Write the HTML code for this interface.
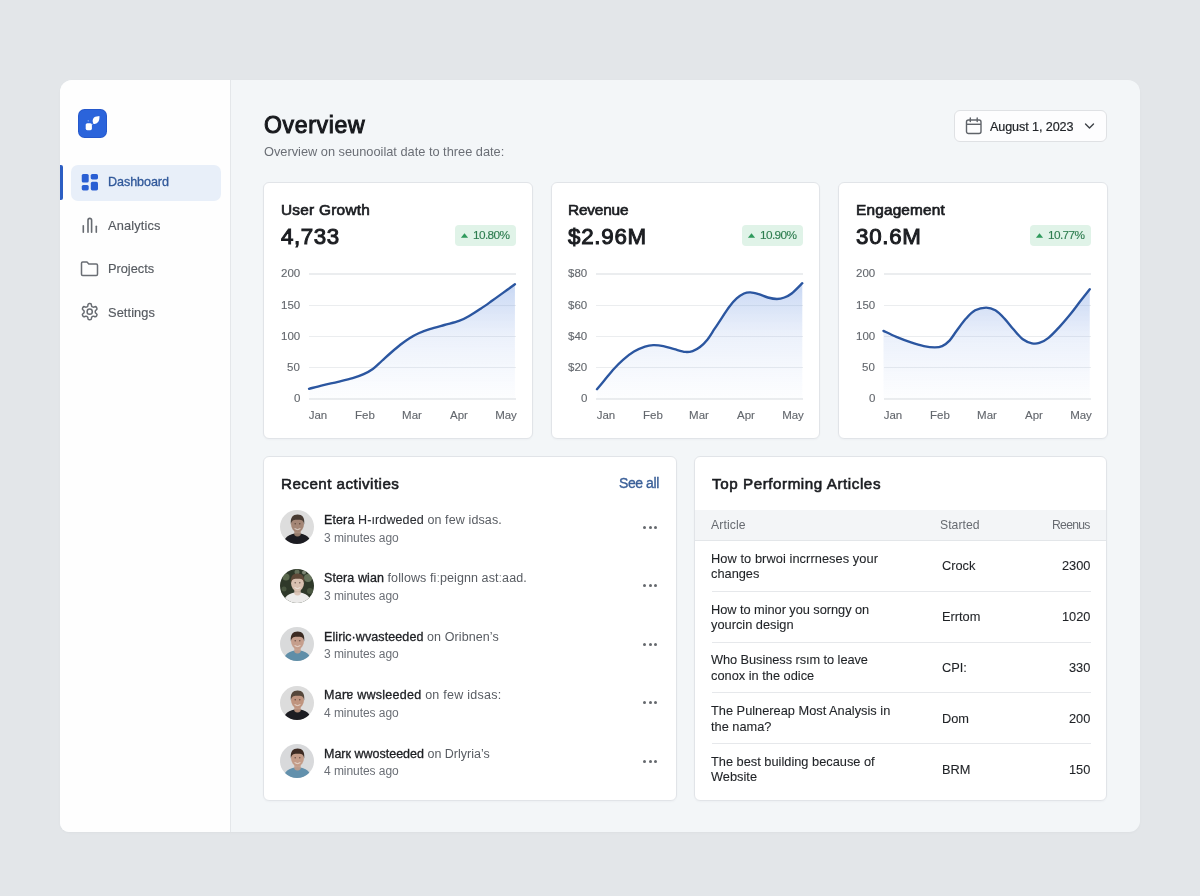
<!DOCTYPE html>
<html><head><meta charset="utf-8"><title>Overview Dashboard</title>
<style>
*{box-sizing:border-box;margin:0;padding:0}
html,body{width:1200px;height:896px;overflow:hidden}
body{background:#e3e6e9;font-family:"Liberation Sans", sans-serif;position:relative;-webkit-font-smoothing:antialiased}
.t{position:absolute;white-space:nowrap;will-change:transform}
.abs{position:absolute}
.app{position:absolute;left:60px;top:80px;width:1080px;height:752px;border-radius:12px 12px 11px 9px;background:#f3f6f8;overflow:hidden;box-shadow:0 1px 3px rgba(0,0,0,.03)}
.side{position:absolute;left:60px;top:80px;width:171px;height:752px;background:#fefefe;border-right:1px solid #e4e7ea;border-radius:12px 0 0 9px}
.card{position:absolute;background:#fff;border:1px solid #e1e4e8;border-radius:6px;box-shadow:0 1px 2px rgba(20,30,50,.03)}
.badge{position:absolute;background:#e0f3e8;border-radius:4px}
.grid{position:absolute;height:1.5px;background:#ebedef}
.av{position:absolute;width:34px;height:34px;border-radius:50%;overflow:hidden}
.dots{position:absolute;width:16px;height:4px}
.dots i{position:absolute;top:0;width:3.2px;height:3.2px;border-radius:50%;background:#65686d}
.sep{position:absolute;height:1px;background:#e6e8eb}
.med{-webkit-text-stroke:0.25px currentColor}
</style></head>
<body>
<div class="app"></div>
<div class="side"></div>
<svg class="abs" style="left:78px;top:109px" width="29" height="29" viewBox="0 0 29 29">
<rect x="0" y="0" width="29" height="29" rx="6.5" fill="#2558cc"/><rect x="1" y="1" width="27" height="27" rx="5.5" fill="#2b64db"/>
<rect x="7.7" y="14.2" width="6.2" height="7" rx="1.6" fill="#fff"/>
<path d="M15.6,14.8 C14.2,13.4 14.3,10.2 16,8.6 C17.6,7.2 19.8,7.1 21.4,6.9 C21.7,9.4 21.2,11.9 19.8,13.3 C18.6,14.6 16.9,15.5 15.6,14.8 Z" fill="#fff"/>
<path d="M14.2,15.6 L17.2,12.8" stroke="#fff" stroke-width="0.8" opacity=".6"/>
<circle cx="10.2" cy="11.8" r="0.6" fill="#fff" opacity=".7"/>
</svg>
<div class="abs" style="left:60px;top:165px;width:3px;height:35px;background:#2c5ec3;border-radius:0 2px 2px 0"></div>
<div class="abs" style="left:71px;top:165px;width:150px;height:36px;background:#e8eff9;border-radius:7px"></div>
<svg class="abs" style="left:81px;top:174px" width="18" height="17" viewBox="0 0 18 17">
<rect x="0.75" y="0" width="6.95" height="8.6" rx="1.6" fill="#2a5fd3"/>
<rect x="0.75" y="11" width="6.95" height="5.4" rx="1.6" fill="#2a5fd3"/>
<rect x="9.7" y="0" width="7.3" height="5.4" rx="1.6" fill="#2a5fd3"/>
<rect x="9.8" y="7.8" width="7.2" height="8.6" rx="1.6" fill="#2a5fd3"/>
</svg>
<div class="t" style="top:174.23px;font-size:12.6px;line-height:16px;color:#30589a;left:108.00px;-webkit-text-stroke:0.3px currentColor;letter-spacing:-0.080px;">Dashboard</div>
<svg class="abs" style="left:81px;top:216px" width="18" height="18" viewBox="0 0 18 18" fill="none" stroke="#676b71" stroke-width="1.6" stroke-linecap="round">
<path d="M2.3,9.8 V16.2"/><path d="M7,16.2 V4.2 A1.8,1.8 0 0 1 10.6,4.2 V16.2"/><path d="M15.3,10.3 V16.2"/>
</svg>
<div class="t" style="top:217.56px;font-size:12.8px;line-height:16px;color:#55595f;left:107.60px;-webkit-text-stroke:0.15px currentColor;letter-spacing:0.160px;">Analytics</div>
<svg class="abs" style="left:80px;top:260px" width="19" height="17" viewBox="0 0 19 17" fill="none" stroke="#6a6e74" stroke-width="1.5" stroke-linejoin="round">
<path d="M1.5,3.2 Q1.5,2 2.7,2 H7 L8.8,4 H16.3 Q17.5,4 17.5,5.2 V14.3 Q17.5,15.5 16.3,15.5 H2.7 Q1.5,15.5 1.5,14.3 Z"/>
</svg>
<div class="t" style="top:261.16px;font-size:12.8px;line-height:16px;color:#55595f;left:107.80px;-webkit-text-stroke:0.15px currentColor;letter-spacing:-0.020px;">Projects</div>
<svg class="abs" style="left:80px;top:302.3px" width="19.4" height="19.4" viewBox="0 0 24 24" fill="none" stroke="#676b71" stroke-width="1.85" stroke-linecap="round" stroke-linejoin="round">
<path d="M12.22 2h-.44a2 2 0 0 0-2 2v.18a2 2 0 0 1-1 1.73l-.43.25a2 2 0 0 1-2 0l-.15-.08a2 2 0 0 0-2.730.73l-.22.38a2 2 0 0 0 .73 2.73l.15.1a2 2 0 0 1 1 1.72v.51a2 2 0 0 1-1 1.740l-.15.09a2 2 0 0 0-.73 2.73l.22.38a2 2 0 0 0 2.73.73l.15-.08a2 2 0 0 1 2 0l.43.25a2 2 0 0 1 1 1.73V20a2 2 0 0 0 2 2h.44a2 2 0 0 0 2-2v-.18a2 2 0 0 1 1-1.73l.43-.25a2 2 0 0 1 2 0l.15.08a2 2 0 0 0 2.73-.73l.22-.39a2 2 0 0 0-.73-2.730l-.15-.08a2 2 0 0 1-1-1.74v-.5a2 2 0 0 1 1-1.74l.15-.09a2 2 0 0 0 .73-2.73l-.22-.38a2 2 0 0 0-2.73-.73l-.15.08a2 2 0 0 1-2 0l-.43-.25a2 2 0 0 1-1-1.73V4a2 2 0 0 0-2-2z"/>
<circle cx="12" cy="12" r="3.2"/>
</svg>
<div class="t" style="top:305.06px;font-size:12.8px;line-height:16px;color:#55595f;left:107.80px;-webkit-text-stroke:0.15px currentColor;letter-spacing:0.093px;">Settings</div>
<div class="t" style="top:110.53px;font-size:23px;line-height:29px;color:#17191d;left:264.00px;-webkit-text-stroke:1px currentColor;letter-spacing:0.664px;">Overview</div>
<div class="t" style="top:143.56px;font-size:12.8px;line-height:16px;color:#6b6f76;left:263.70px;letter-spacing:-0.005px;">Overview on seunooilat date to three date:</div>
<div class="abs" style="left:954px;top:109.8px;width:153px;height:32.2px;background:#fdfdfe;border:1px solid #dfe1e4;border-radius:6px"></div>
<svg class="abs" style="left:965px;top:117px" width="18" height="18" viewBox="0 0 18 18" fill="none" stroke="#5f6369" stroke-width="1.4">
<rect x="1.5" y="3" width="14.5" height="13.5" rx="2"/><path d="M1.5,7.3 H16"/><path d="M5.3,1 V4.5 M12.2,1 V4.5" stroke-linecap="round"/>
</svg>
<div class="t" style="top:118.83px;font-size:12.6px;line-height:16px;color:#222529;left:990.00px;-webkit-text-stroke:0.2px currentColor;letter-spacing:-0.097px;">August 1, 2023</div>
<svg class="abs" style="left:1083px;top:121px" width="13" height="10" viewBox="0 0 13 10" fill="none" stroke="#3c4046" stroke-width="1.4" stroke-linecap="round" stroke-linejoin="round"><path d="M2.5,3 L6.5,7 L10.5,3"/></svg>
<div class="card" style="left:263px;top:181.5px;width:269.5px;height:257.4px"></div>
<div class="t" style="top:199.86px;font-size:15.4px;line-height:19px;color:#1b1d21;left:280.80px;-webkit-text-stroke:0.7px currentColor;letter-spacing:0.247px;">User Growth</div>
<div class="t" style="top:222.97px;font-size:22.3px;line-height:28px;color:#1b1d21;left:280.90px;-webkit-text-stroke:1px currentColor;letter-spacing:0.574px;">4,733</div>
<div class="badge" style="left:454.5px;top:225px;width:61px;height:21px"></div>
<svg class="abs" style="left:459.5px;top:232px" width="9" height="7" viewBox="0 0 9 7"><path d="M4.5,1.2 L8.1,5.8 H0.9 Z" fill="#2f9a5c"/></svg>
<div class="t" style="top:228.01px;font-size:11.8px;line-height:15px;color:#2e7d50;left:472.90px;-webkit-text-stroke:0.15px currentColor;letter-spacing:-0.604px;">10.80%</div>
<div class="grid" style="left:308.5px;top:273.15px;width:207.3px"></div>
<div class="t" style="top:266.32px;font-size:11.5px;line-height:14px;color:#63676d;right:900.00px;text-align:right;-webkit-text-stroke:0.12px currentColor;">200</div>
<div class="grid" style="left:308.5px;top:304.55px;width:207.3px"></div>
<div class="t" style="top:297.72px;font-size:11.5px;line-height:14px;color:#63676d;right:900.00px;text-align:right;-webkit-text-stroke:0.12px currentColor;">150</div>
<div class="grid" style="left:308.5px;top:335.75px;width:207.3px"></div>
<div class="t" style="top:328.92px;font-size:11.5px;line-height:14px;color:#63676d;right:900.00px;text-align:right;-webkit-text-stroke:0.12px currentColor;">100</div>
<div class="grid" style="left:308.5px;top:366.95px;width:207.3px"></div>
<div class="t" style="top:360.12px;font-size:11.5px;line-height:14px;color:#63676d;right:900.00px;text-align:right;-webkit-text-stroke:0.12px currentColor;">50</div>
<div class="grid" style="left:308.5px;top:398.05px;width:207.3px"></div>
<div class="t" style="top:391.22px;font-size:11.5px;line-height:14px;color:#63676d;right:900.00px;text-align:right;-webkit-text-stroke:0.12px currentColor;">0</div>
<div class="t" style="top:407.62px;font-size:11.5px;line-height:14px;color:#63676d;left:298.10px;width:40px;text-align:center;-webkit-text-stroke:0.12px currentColor;">Jan</div>
<div class="t" style="top:407.62px;font-size:11.5px;line-height:14px;color:#63676d;left:345.00px;width:40px;text-align:center;-webkit-text-stroke:0.12px currentColor;">Feb</div>
<div class="t" style="top:407.62px;font-size:11.5px;line-height:14px;color:#63676d;left:391.90px;width:40px;text-align:center;-webkit-text-stroke:0.12px currentColor;">Mar</div>
<div class="t" style="top:407.62px;font-size:11.5px;line-height:14px;color:#63676d;left:438.80px;width:40px;text-align:center;-webkit-text-stroke:0.12px currentColor;">Apr</div>
<div class="t" style="top:407.62px;font-size:11.5px;line-height:14px;color:#63676d;left:485.70px;width:40px;text-align:center;-webkit-text-stroke:0.12px currentColor;">May</div>
<svg class="abs" style="left:0;top:0" width="1200" height="896" viewBox="0 0 1200 896">
<defs><linearGradient id="g0" x1="0" y1="0" x2="0" y2="1"><stop offset="0" stop-color="#6f97e0" stop-opacity=".38"/><stop offset=".45" stop-color="#7ea1e4" stop-opacity=".15"/><stop offset="1" stop-color="#8fb0ec" stop-opacity=".02"/></linearGradient></defs>
<path d="M309.03,388.80 C311.42,388.19 318.51,386.29 323.33,385.13 C328.16,383.97 333.11,382.99 338.00,381.83 C342.89,380.67 348.39,379.45 352.67,378.17 C356.94,376.88 360.31,375.66 363.67,374.13 C367.03,372.61 369.78,371.23 372.83,369.00 C375.89,366.77 378.94,363.50 382.00,360.75 C385.06,358.00 388.11,355.16 391.17,352.50 C394.22,349.84 397.28,347.18 400.33,344.80 C403.39,342.42 406.44,340.12 409.50,338.20 C412.56,336.27 415.31,334.75 418.67,333.25 C422.03,331.75 425.39,330.59 429.67,329.22 C433.94,327.84 439.44,326.38 444.33,325.00 C449.22,323.62 454.72,322.56 459.00,320.97 C463.28,319.38 466.33,317.54 470.00,315.47 C473.67,313.39 477.33,310.94 481.00,308.50 C484.67,306.06 488.33,303.40 492.00,300.80 C495.67,298.20 499.18,295.67 503.00,292.92 C506.82,290.17 512.93,285.74 514.92,284.30 L514.92,398.4 L309.03,398.4 Z" fill="url(#g0)"/>
<path d="M309.03,388.80 C311.42,388.19 318.51,386.29 323.33,385.13 C328.16,383.97 333.11,382.99 338.00,381.83 C342.89,380.67 348.39,379.45 352.67,378.17 C356.94,376.88 360.31,375.66 363.67,374.13 C367.03,372.61 369.78,371.23 372.83,369.00 C375.89,366.77 378.94,363.50 382.00,360.75 C385.06,358.00 388.11,355.16 391.17,352.50 C394.22,349.84 397.28,347.18 400.33,344.80 C403.39,342.42 406.44,340.12 409.50,338.20 C412.56,336.27 415.31,334.75 418.67,333.25 C422.03,331.75 425.39,330.59 429.67,329.22 C433.94,327.84 439.44,326.38 444.33,325.00 C449.22,323.62 454.72,322.56 459.00,320.97 C463.28,319.38 466.33,317.54 470.00,315.47 C473.67,313.39 477.33,310.94 481.00,308.50 C484.67,306.06 488.33,303.40 492.00,300.80 C495.67,298.20 499.18,295.67 503.00,292.92 C506.82,290.17 512.93,285.74 514.92,284.30" fill="none" stroke="#2b56a0" stroke-width="2.35" stroke-linecap="round" stroke-linejoin="round"/>
</svg>
<div class="card" style="left:550.5px;top:181.5px;width:269.5px;height:257.4px"></div>
<div class="t" style="top:199.86px;font-size:15.4px;line-height:19px;color:#1b1d21;left:568.30px;-webkit-text-stroke:0.7px currentColor;letter-spacing:-0.174px;">Revenue</div>
<div class="t" style="top:222.97px;font-size:22.3px;line-height:28px;color:#1b1d21;left:568.40px;-webkit-text-stroke:1px currentColor;letter-spacing:0.764px;">$2.96M</div>
<div class="badge" style="left:742.0px;top:225px;width:61px;height:21px"></div>
<svg class="abs" style="left:747.0px;top:232px" width="9" height="7" viewBox="0 0 9 7"><path d="M4.5,1.2 L8.1,5.8 H0.9 Z" fill="#2f9a5c"/></svg>
<div class="t" style="top:228.01px;font-size:11.8px;line-height:15px;color:#2e7d50;left:760.40px;-webkit-text-stroke:0.15px currentColor;letter-spacing:-0.604px;">10.90%</div>
<div class="grid" style="left:596.0px;top:273.15px;width:207.3px"></div>
<div class="t" style="top:266.32px;font-size:11.5px;line-height:14px;color:#63676d;right:612.50px;text-align:right;-webkit-text-stroke:0.12px currentColor;">$80</div>
<div class="grid" style="left:596.0px;top:304.55px;width:207.3px"></div>
<div class="t" style="top:297.72px;font-size:11.5px;line-height:14px;color:#63676d;right:612.50px;text-align:right;-webkit-text-stroke:0.12px currentColor;">$60</div>
<div class="grid" style="left:596.0px;top:335.75px;width:207.3px"></div>
<div class="t" style="top:328.92px;font-size:11.5px;line-height:14px;color:#63676d;right:612.50px;text-align:right;-webkit-text-stroke:0.12px currentColor;">$40</div>
<div class="grid" style="left:596.0px;top:366.95px;width:207.3px"></div>
<div class="t" style="top:360.12px;font-size:11.5px;line-height:14px;color:#63676d;right:612.50px;text-align:right;-webkit-text-stroke:0.12px currentColor;">$20</div>
<div class="grid" style="left:596.0px;top:398.05px;width:207.3px"></div>
<div class="t" style="top:391.22px;font-size:11.5px;line-height:14px;color:#63676d;right:612.50px;text-align:right;-webkit-text-stroke:0.12px currentColor;">0</div>
<div class="t" style="top:407.62px;font-size:11.5px;line-height:14px;color:#63676d;left:585.60px;width:40px;text-align:center;-webkit-text-stroke:0.12px currentColor;">Jan</div>
<div class="t" style="top:407.62px;font-size:11.5px;line-height:14px;color:#63676d;left:632.50px;width:40px;text-align:center;-webkit-text-stroke:0.12px currentColor;">Feb</div>
<div class="t" style="top:407.62px;font-size:11.5px;line-height:14px;color:#63676d;left:679.40px;width:40px;text-align:center;-webkit-text-stroke:0.12px currentColor;">Mar</div>
<div class="t" style="top:407.62px;font-size:11.5px;line-height:14px;color:#63676d;left:726.30px;width:40px;text-align:center;-webkit-text-stroke:0.12px currentColor;">Apr</div>
<div class="t" style="top:407.62px;font-size:11.5px;line-height:14px;color:#63676d;left:773.20px;width:40px;text-align:center;-webkit-text-stroke:0.12px currentColor;">May</div>
<svg class="abs" style="left:0;top:0" width="1200" height="896" viewBox="0 0 1200 896">
<defs><linearGradient id="g1" x1="0" y1="0" x2="0" y2="1"><stop offset="0" stop-color="#6f97e0" stop-opacity=".38"/><stop offset=".45" stop-color="#7ea1e4" stop-opacity=".15"/><stop offset="1" stop-color="#8fb0ec" stop-opacity=".02"/></linearGradient></defs>
<path d="M596.97,389.17 C598.25,387.64 601.86,383.36 604.67,380.00 C607.48,376.64 610.78,372.36 613.83,369.00 C616.89,365.64 619.64,362.74 623.00,359.83 C626.36,356.93 630.33,353.78 634.00,351.58 C637.67,349.38 641.79,347.70 645.00,346.63 C648.21,345.56 650.19,345.26 653.25,345.17 C656.31,345.08 659.82,345.41 663.33,346.08 C666.85,346.76 670.67,348.22 674.33,349.20 C678.00,350.18 682.28,351.64 685.33,351.95 C688.39,352.26 690.22,351.86 692.67,351.03 C695.11,350.21 697.56,348.89 700.00,347.00 C702.44,345.11 704.89,342.72 707.33,339.67 C709.78,336.61 712.22,332.33 714.67,328.67 C717.11,325.00 719.56,321.33 722.00,317.67 C724.44,314.00 726.89,309.88 729.33,306.67 C731.78,303.46 734.22,300.62 736.67,298.42 C739.11,296.22 741.71,294.48 744.00,293.47 C746.29,292.46 747.97,292.24 750.42,292.37 C752.86,292.49 755.76,293.34 758.67,294.20 C761.57,295.06 764.78,296.71 767.83,297.50 C770.89,298.29 774.25,298.97 777.00,298.97 C779.75,298.97 781.89,298.42 784.33,297.50 C786.78,296.58 788.67,295.85 791.67,293.47 C794.66,291.08 800.53,284.91 802.30,283.20 L802.30,398.4 L596.97,398.4 Z" fill="url(#g1)"/>
<path d="M596.97,389.17 C598.25,387.64 601.86,383.36 604.67,380.00 C607.48,376.64 610.78,372.36 613.83,369.00 C616.89,365.64 619.64,362.74 623.00,359.83 C626.36,356.93 630.33,353.78 634.00,351.58 C637.67,349.38 641.79,347.70 645.00,346.63 C648.21,345.56 650.19,345.26 653.25,345.17 C656.31,345.08 659.82,345.41 663.33,346.08 C666.85,346.76 670.67,348.22 674.33,349.20 C678.00,350.18 682.28,351.64 685.33,351.95 C688.39,352.26 690.22,351.86 692.67,351.03 C695.11,350.21 697.56,348.89 700.00,347.00 C702.44,345.11 704.89,342.72 707.33,339.67 C709.78,336.61 712.22,332.33 714.67,328.67 C717.11,325.00 719.56,321.33 722.00,317.67 C724.44,314.00 726.89,309.88 729.33,306.67 C731.78,303.46 734.22,300.62 736.67,298.42 C739.11,296.22 741.71,294.48 744.00,293.47 C746.29,292.46 747.97,292.24 750.42,292.37 C752.86,292.49 755.76,293.34 758.67,294.20 C761.57,295.06 764.78,296.71 767.83,297.50 C770.89,298.29 774.25,298.97 777.00,298.97 C779.75,298.97 781.89,298.42 784.33,297.50 C786.78,296.58 788.67,295.85 791.67,293.47 C794.66,291.08 800.53,284.91 802.30,283.20" fill="none" stroke="#2b56a0" stroke-width="2.35" stroke-linecap="round" stroke-linejoin="round"/>
</svg>
<div class="card" style="left:838px;top:181.5px;width:269.5px;height:257.4px"></div>
<div class="t" style="top:199.86px;font-size:15.4px;line-height:19px;color:#1b1d21;left:855.80px;-webkit-text-stroke:0.7px currentColor;letter-spacing:0.174px;">Engagement</div>
<div class="t" style="top:222.97px;font-size:22.3px;line-height:28px;color:#1b1d21;left:855.90px;-webkit-text-stroke:1px currentColor;letter-spacing:0.730px;">30.6M</div>
<div class="badge" style="left:1029.5px;top:225px;width:61px;height:21px"></div>
<svg class="abs" style="left:1034.5px;top:232px" width="9" height="7" viewBox="0 0 9 7"><path d="M4.5,1.2 L8.1,5.8 H0.9 Z" fill="#2f9a5c"/></svg>
<div class="t" style="top:228.01px;font-size:11.8px;line-height:15px;color:#2e7d50;left:1047.90px;-webkit-text-stroke:0.15px currentColor;letter-spacing:-0.604px;">10.77%</div>
<div class="grid" style="left:883.5px;top:273.15px;width:207.3px"></div>
<div class="t" style="top:266.32px;font-size:11.5px;line-height:14px;color:#63676d;right:325.00px;text-align:right;-webkit-text-stroke:0.12px currentColor;">200</div>
<div class="grid" style="left:883.5px;top:304.55px;width:207.3px"></div>
<div class="t" style="top:297.72px;font-size:11.5px;line-height:14px;color:#63676d;right:325.00px;text-align:right;-webkit-text-stroke:0.12px currentColor;">150</div>
<div class="grid" style="left:883.5px;top:335.75px;width:207.3px"></div>
<div class="t" style="top:328.92px;font-size:11.5px;line-height:14px;color:#63676d;right:325.00px;text-align:right;-webkit-text-stroke:0.12px currentColor;">100</div>
<div class="grid" style="left:883.5px;top:366.95px;width:207.3px"></div>
<div class="t" style="top:360.12px;font-size:11.5px;line-height:14px;color:#63676d;right:325.00px;text-align:right;-webkit-text-stroke:0.12px currentColor;">50</div>
<div class="grid" style="left:883.5px;top:398.05px;width:207.3px"></div>
<div class="t" style="top:391.22px;font-size:11.5px;line-height:14px;color:#63676d;right:325.00px;text-align:right;-webkit-text-stroke:0.12px currentColor;">0</div>
<div class="t" style="top:407.62px;font-size:11.5px;line-height:14px;color:#63676d;left:873.10px;width:40px;text-align:center;-webkit-text-stroke:0.12px currentColor;">Jan</div>
<div class="t" style="top:407.62px;font-size:11.5px;line-height:14px;color:#63676d;left:920.00px;width:40px;text-align:center;-webkit-text-stroke:0.12px currentColor;">Feb</div>
<div class="t" style="top:407.62px;font-size:11.5px;line-height:14px;color:#63676d;left:966.90px;width:40px;text-align:center;-webkit-text-stroke:0.12px currentColor;">Mar</div>
<div class="t" style="top:407.62px;font-size:11.5px;line-height:14px;color:#63676d;left:1013.80px;width:40px;text-align:center;-webkit-text-stroke:0.12px currentColor;">Apr</div>
<div class="t" style="top:407.62px;font-size:11.5px;line-height:14px;color:#63676d;left:1060.70px;width:40px;text-align:center;-webkit-text-stroke:0.12px currentColor;">May</div>
<svg class="abs" style="left:0;top:0" width="1200" height="896" viewBox="0 0 1200 896">
<defs><linearGradient id="g2" x1="0" y1="0" x2="0" y2="1"><stop offset="0" stop-color="#6f97e0" stop-opacity=".38"/><stop offset=".45" stop-color="#7ea1e4" stop-opacity=".15"/><stop offset="1" stop-color="#8fb0ec" stop-opacity=".02"/></linearGradient></defs>
<path d="M883.50,330.87 C885.64,331.88 891.75,334.99 896.33,336.92 C900.92,338.84 906.42,340.89 911.00,342.42 C915.58,343.94 919.86,345.26 923.83,346.08 C927.81,346.91 931.78,347.37 934.83,347.37 C937.89,347.37 939.72,347.21 942.17,346.08 C944.61,344.95 947.06,343.18 949.50,340.58 C951.94,337.99 954.08,334.17 956.83,330.50 C959.58,326.83 962.94,321.94 966.00,318.58 C969.06,315.22 971.81,312.17 975.17,310.33 C978.53,308.50 982.81,307.58 986.17,307.58 C989.53,307.58 992.28,308.50 995.33,310.33 C998.39,312.17 1001.44,315.38 1004.50,318.58 C1007.56,321.79 1010.61,326.13 1013.67,329.58 C1016.72,333.04 1019.78,337.01 1022.83,339.30 C1025.89,341.59 1029.25,342.72 1032.00,343.33 C1034.75,343.94 1036.58,343.88 1039.33,342.97 C1042.08,342.05 1045.14,340.52 1048.50,337.83 C1051.86,335.14 1055.83,330.81 1059.50,326.83 C1063.17,322.86 1067.14,318.12 1070.50,314.00 C1073.86,309.88 1076.46,306.21 1079.67,302.08 C1082.88,297.96 1088.07,291.39 1089.75,289.25 L1089.75,398.4 L883.50,398.4 Z" fill="url(#g2)"/>
<path d="M883.50,330.87 C885.64,331.88 891.75,334.99 896.33,336.92 C900.92,338.84 906.42,340.89 911.00,342.42 C915.58,343.94 919.86,345.26 923.83,346.08 C927.81,346.91 931.78,347.37 934.83,347.37 C937.89,347.37 939.72,347.21 942.17,346.08 C944.61,344.95 947.06,343.18 949.50,340.58 C951.94,337.99 954.08,334.17 956.83,330.50 C959.58,326.83 962.94,321.94 966.00,318.58 C969.06,315.22 971.81,312.17 975.17,310.33 C978.53,308.50 982.81,307.58 986.17,307.58 C989.53,307.58 992.28,308.50 995.33,310.33 C998.39,312.17 1001.44,315.38 1004.50,318.58 C1007.56,321.79 1010.61,326.13 1013.67,329.58 C1016.72,333.04 1019.78,337.01 1022.83,339.30 C1025.89,341.59 1029.25,342.72 1032.00,343.33 C1034.75,343.94 1036.58,343.88 1039.33,342.97 C1042.08,342.05 1045.14,340.52 1048.50,337.83 C1051.86,335.14 1055.83,330.81 1059.50,326.83 C1063.17,322.86 1067.14,318.12 1070.50,314.00 C1073.86,309.88 1076.46,306.21 1079.67,302.08 C1082.88,297.96 1088.07,291.39 1089.75,289.25" fill="none" stroke="#2b56a0" stroke-width="2.35" stroke-linecap="round" stroke-linejoin="round"/>
</svg>
<div class="card" style="left:263px;top:456px;width:413.5px;height:344.7px"></div>
<div class="t" style="top:473.73px;font-size:15.2px;line-height:19px;color:#1b1d21;left:281.20px;-webkit-text-stroke:0.6px currentColor;letter-spacing:0.458px;">Recent activities</div>
<div class="t" style="top:473.65px;font-size:14px;line-height:18px;color:#3a5f98;right:540.70px;text-align:right;-webkit-text-stroke:0.35px currentColor;letter-spacing:-0.426px;">See all</div>
<svg class="abs" style="left:280.0px;top:510.4px" width="34" height="34" viewBox="0 0 34 34">
<defs><clipPath id="c510"><circle cx="17" cy="17" r="17"/></clipPath><filter id="f510" x="-10%" y="-10%" width="120%" height="120%"><feGaussianBlur stdDeviation="0.45"/></filter></defs>
<g clip-path="url(#c510)">
<rect width="34" height="34" fill="#dddddd"/>

<g filter="url(#f510)">
<path d="M3,36 C3.5,27.5 9,23.6 17.5,23.2 C26,23.6 31,27.5 31.5,36 Z" fill="#1c1d20"/>
<path d="M14.3,20 L14.3,25 Q17.5,28 20.7,25 L20.7,20 Z" fill="#a48676" opacity=".9"/>
<ellipse cx="17.5" cy="14.6" rx="6.4" ry="7.8" fill="#a48676"/>
<path d="M10.9,14.5 C10,7.5 13,4.6 17.6,4.6 C22.2,4.6 25,7.5 24.2,14.5 C23.6,10.6 22,9.4 17.5,9.7 C13.2,9.5 11.6,10.6 10.9,14.5 Z" fill="#463a32"/>
<path d="M14.6,18.6 Q17.5,20.6 20.4,18.6" stroke="#f4efe9" stroke-width="1" fill="none" opacity=".75"/>
<circle cx="15.2" cy="13.8" r="0.7" fill="#3a2a22" opacity=".7"/><circle cx="19.8" cy="13.8" r="0.7" fill="#3a2a22" opacity=".7"/>
</g>
</g></svg>
<div class="t" style="top:511.97px;font-size:12.5px;line-height:16px;color:#585c62;left:324.00px;letter-spacing:0.114px;"><span style="color:#1d1f23;-webkit-text-stroke:0.32px currentColor">Etera</span> <span style="color:#2b2e33;-webkit-text-stroke:0.1px currentColor">H-ırdweded</span> <span style="color:#585c62">on few idsas.</span></div>
<div class="t" style="top:530.64px;font-size:12px;line-height:15px;color:#6b6f76;left:324.00px;letter-spacing:-0.057px;">3 minutes ago</div>
<div class="dots" style="left:643px;top:525.9px"><i style="left:0"></i><i style="left:5.6px"></i><i style="left:11.2px"></i></div>
<svg class="abs" style="left:280.0px;top:568.8px" width="34" height="34" viewBox="0 0 34 34">
<defs><clipPath id="c568"><circle cx="17" cy="17" r="17"/></clipPath><filter id="f568" x="-10%" y="-10%" width="120%" height="120%"><feGaussianBlur stdDeviation="0.45"/></filter></defs>
<g clip-path="url(#c568)">
<rect width="34" height="34" fill="#2e3829"/>
<circle cx="6" cy="8" r="3.5" fill="#6f7f5e" opacity=".7"/><circle cx="28" cy="9" r="4" fill="#8a9a7c" opacity=".6"/><circle cx="30" cy="22" r="3" fill="#5d6c50" opacity=".6"/><circle cx="4" cy="20" r="2.5" fill="#55644a" opacity=".7"/><circle cx="17" cy="3" r="2.5" fill="#9aa88c" opacity=".5"/><circle cx="24" cy="3.5" r="2" fill="#c8d0bc" opacity=".5"/>
<g filter="url(#f568)">
<path d="M3,36 C3.5,27.5 9,23.6 17.5,23.2 C26,23.6 31,27.5 31.5,36 Z" fill="#ecebea"/>
<path d="M14.3,20 L14.3,25 Q17.5,28 20.7,25 L20.7,20 Z" fill="#d8c0b0" opacity=".9"/>
<ellipse cx="17.5" cy="14.6" rx="6.4" ry="7.8" fill="#d8c0b0"/>
<path d="M10.9,14.5 C10,7.5 13,4.6 17.6,4.6 C22.2,4.6 25,7.5 24.2,14.5 C23.6,10.6 22,9.4 17.5,9.7 C13.2,9.5 11.6,10.6 10.9,14.5 Z" fill="#5e4838"/>
<path d="M14.6,18.6 Q17.5,20.6 20.4,18.6" stroke="#f4efe9" stroke-width="1" fill="none" opacity=".75"/>
<circle cx="15.2" cy="13.8" r="0.7" fill="#3a2a22" opacity=".7"/><circle cx="19.8" cy="13.8" r="0.7" fill="#3a2a22" opacity=".7"/>
</g>
</g></svg>
<div class="t" style="top:570.37px;font-size:12.5px;line-height:16px;color:#585c62;left:324.00px;letter-spacing:0.091px;"><span style="color:#1d1f23;-webkit-text-stroke:0.32px currentColor">Stera wian</span> <span style="color:#585c62">follows fiːpeignn astːaad.</span></div>
<div class="t" style="top:589.04px;font-size:12px;line-height:15px;color:#6b6f76;left:324.00px;letter-spacing:-0.057px;">3 minutes ago</div>
<div class="dots" style="left:643px;top:584.3px"><i style="left:0"></i><i style="left:5.6px"></i><i style="left:11.2px"></i></div>
<svg class="abs" style="left:280.0px;top:627.2px" width="34" height="34" viewBox="0 0 34 34">
<defs><clipPath id="c627"><circle cx="17" cy="17" r="17"/></clipPath><filter id="f627" x="-10%" y="-10%" width="120%" height="120%"><feGaussianBlur stdDeviation="0.45"/></filter></defs>
<g clip-path="url(#c627)">
<rect width="34" height="34" fill="#d9dadb"/>

<g filter="url(#f627)">
<path d="M3,36 C3.5,27.5 9,23.6 17.5,23.2 C26,23.6 31,27.5 31.5,36 Z" fill="#5f8ea8"/>
<path d="M14.3,20 L14.3,25 Q17.5,28 20.7,25 L20.7,20 Z" fill="#c59e8c" opacity=".9"/>
<ellipse cx="17.5" cy="14.6" rx="6.4" ry="7.8" fill="#c59e8c"/>
<path d="M10.9,14.5 C10,7.5 13,4.6 17.6,4.6 C22.2,4.6 25,7.5 24.2,14.5 C23.6,10.6 22,9.4 17.5,9.7 C13.2,9.5 11.6,10.6 10.9,14.5 Z" fill="#3a2a20"/>
<path d="M14.6,18.6 Q17.5,20.6 20.4,18.6" stroke="#f4efe9" stroke-width="1" fill="none" opacity=".75"/>
<circle cx="15.2" cy="13.8" r="0.7" fill="#3a2a22" opacity=".7"/><circle cx="19.8" cy="13.8" r="0.7" fill="#3a2a22" opacity=".7"/>
</g>
</g></svg>
<div class="t" style="top:628.77px;font-size:12.5px;line-height:16px;color:#585c62;left:324.00px;letter-spacing:0.090px;"><span style="color:#1d1f23;-webkit-text-stroke:0.32px currentColor">Eliric·wvasteeded</span> <span style="color:#585c62">on Oribnen’s</span></div>
<div class="t" style="top:647.44px;font-size:12px;line-height:15px;color:#6b6f76;left:324.00px;letter-spacing:-0.057px;">3 minutes ago</div>
<div class="dots" style="left:643px;top:642.7px"><i style="left:0"></i><i style="left:5.6px"></i><i style="left:11.2px"></i></div>
<svg class="abs" style="left:280.0px;top:685.6px" width="34" height="34" viewBox="0 0 34 34">
<defs><clipPath id="c685"><circle cx="17" cy="17" r="17"/></clipPath><filter id="f685" x="-10%" y="-10%" width="120%" height="120%"><feGaussianBlur stdDeviation="0.45"/></filter></defs>
<g clip-path="url(#c685)">
<rect width="34" height="34" fill="#dcdcdc"/>

<g filter="url(#f685)">
<path d="M3,36 C3.5,27.5 9,23.6 17.5,23.2 C26,23.6 31,27.5 31.5,36 Z" fill="#1e1f22"/>
<path d="M14.3,20 L14.3,25 Q17.5,28 20.7,25 L20.7,20 Z" fill="#bf947f" opacity=".9"/>
<ellipse cx="17.5" cy="14.6" rx="6.4" ry="7.8" fill="#bf947f"/>
<path d="M10.9,14.5 C10,7.5 13,4.6 17.6,4.6 C22.2,4.6 25,7.5 24.2,14.5 C23.6,10.6 22,9.4 17.5,9.7 C13.2,9.5 11.6,10.6 10.9,14.5 Z" fill="#54463a"/>
<path d="M14.6,18.6 Q17.5,20.6 20.4,18.6" stroke="#f4efe9" stroke-width="1" fill="none" opacity=".75"/>
<circle cx="15.2" cy="13.8" r="0.7" fill="#3a2a22" opacity=".7"/><circle cx="19.8" cy="13.8" r="0.7" fill="#3a2a22" opacity=".7"/>
</g>
</g></svg>
<div class="t" style="top:687.17px;font-size:12.5px;line-height:16px;color:#585c62;left:324.00px;letter-spacing:0.258px;"><span style="color:#1d1f23;-webkit-text-stroke:0.32px currentColor">Marɐ wwsleeded</span> <span style="color:#585c62">on few idsas:</span></div>
<div class="t" style="top:705.84px;font-size:12px;line-height:15px;color:#6b6f76;left:324.00px;letter-spacing:-0.057px;">4 minutes ago</div>
<div class="dots" style="left:643px;top:701.1px"><i style="left:0"></i><i style="left:5.6px"></i><i style="left:11.2px"></i></div>
<svg class="abs" style="left:280.0px;top:744.0px" width="34" height="34" viewBox="0 0 34 34">
<defs><clipPath id="c744"><circle cx="17" cy="17" r="17"/></clipPath><filter id="f744" x="-10%" y="-10%" width="120%" height="120%"><feGaussianBlur stdDeviation="0.45"/></filter></defs>
<g clip-path="url(#c744)">
<rect width="34" height="34" fill="#d8d9db"/>

<g filter="url(#f744)">
<path d="M3,36 C3.5,27.5 9,23.6 17.5,23.2 C26,23.6 31,27.5 31.5,36 Z" fill="#6290ac"/>
<path d="M14.3,20 L14.3,25 Q17.5,28 20.7,25 L20.7,20 Z" fill="#c49c88" opacity=".9"/>
<ellipse cx="17.5" cy="14.6" rx="6.4" ry="7.8" fill="#c49c88"/>
<path d="M10.9,14.5 C10,7.5 13,4.6 17.6,4.6 C22.2,4.6 25,7.5 24.2,14.5 C23.6,10.6 22,9.4 17.5,9.7 C13.2,9.5 11.6,10.6 10.9,14.5 Z" fill="#3c2c22"/>
<path d="M14.6,18.6 Q17.5,20.6 20.4,18.6" stroke="#f4efe9" stroke-width="1" fill="none" opacity=".75"/>
<circle cx="15.2" cy="13.8" r="0.7" fill="#3a2a22" opacity=".7"/><circle cx="19.8" cy="13.8" r="0.7" fill="#3a2a22" opacity=".7"/>
</g>
</g></svg>
<div class="t" style="top:745.57px;font-size:12.5px;line-height:16px;color:#585c62;left:324.00px;letter-spacing:-0.001px;"><span style="color:#1d1f23;-webkit-text-stroke:0.32px currentColor">Marк wwosteeded</span> <span style="color:#585c62">on Drlyria’s</span></div>
<div class="t" style="top:764.24px;font-size:12px;line-height:15px;color:#6b6f76;left:324.00px;letter-spacing:-0.057px;">4 minutes ago</div>
<div class="dots" style="left:643px;top:759.5px"><i style="left:0"></i><i style="left:5.6px"></i><i style="left:11.2px"></i></div>
<div class="card" style="left:694.2px;top:456px;width:413.3px;height:344.7px;overflow:hidden"><div style="position:absolute;left:0;top:53px;width:100%;height:30.6px;background:#f3f5f7;border-bottom:1px solid #e3e6e9"></div></div>
<div class="t" style="top:474.03px;font-size:15.2px;line-height:19px;color:#1b1d21;left:712.30px;-webkit-text-stroke:0.6px currentColor;letter-spacing:0.560px;">Top Performing Articles</div>
<div class="t" style="top:518.17px;font-size:12.2px;line-height:15px;color:#676b71;left:711.30px;letter-spacing:0.101px;">Article</div>
<div class="t" style="top:518.17px;font-size:12.2px;line-height:15px;color:#676b71;left:939.70px;letter-spacing:0.044px;">Started</div>
<div class="t" style="top:518.17px;font-size:12.2px;line-height:15px;color:#676b71;right:110.40px;text-align:right;letter-spacing:-0.710px;">Reenus</div>
<div class="t" style="top:550.86px;font-size:12.8px;line-height:16px;color:#1f2226;left:711.20px;-webkit-text-stroke:0.1px currentColor;letter-spacing:0.073px;">How to brwoi incrrneses your</div>
<div class="t" style="top:566.16px;font-size:12.8px;line-height:16px;color:#1f2226;left:711.20px;-webkit-text-stroke:0.1px currentColor;">changes</div>
<div class="t" style="top:558.36px;font-size:12.8px;line-height:16px;color:#1f2226;left:941.50px;-webkit-text-stroke:0.1px currentColor;">Crock</div>
<div class="t" style="top:558.36px;font-size:12.8px;line-height:16px;color:#1f2226;right:109.50px;text-align:right;-webkit-text-stroke:0.1px currentColor;">2300</div>
<div class="sep" style="left:711.5px;top:590.8px;width:379px"></div>
<div class="t" style="top:601.66px;font-size:12.8px;line-height:16px;color:#1f2226;left:711.20px;-webkit-text-stroke:0.1px currentColor;letter-spacing:-0.045px;">How to minor you sorngy on</div>
<div class="t" style="top:616.96px;font-size:12.8px;line-height:16px;color:#1f2226;left:711.20px;-webkit-text-stroke:0.1px currentColor;">yourcin design</div>
<div class="t" style="top:609.16px;font-size:12.8px;line-height:16px;color:#1f2226;left:941.50px;-webkit-text-stroke:0.1px currentColor;">Errtom</div>
<div class="t" style="top:609.16px;font-size:12.8px;line-height:16px;color:#1f2226;right:109.50px;text-align:right;-webkit-text-stroke:0.1px currentColor;">1020</div>
<div class="sep" style="left:711.5px;top:641.6px;width:379px"></div>
<div class="t" style="top:652.46px;font-size:12.8px;line-height:16px;color:#1f2226;left:711.20px;-webkit-text-stroke:0.1px currentColor;letter-spacing:-0.066px;">Who Business rsım to leave</div>
<div class="t" style="top:667.76px;font-size:12.8px;line-height:16px;color:#1f2226;left:711.20px;-webkit-text-stroke:0.1px currentColor;">conox in the odice</div>
<div class="t" style="top:659.96px;font-size:12.8px;line-height:16px;color:#1f2226;left:941.50px;-webkit-text-stroke:0.1px currentColor;">CPI:</div>
<div class="t" style="top:659.96px;font-size:12.8px;line-height:16px;color:#1f2226;right:109.50px;text-align:right;-webkit-text-stroke:0.1px currentColor;">330</div>
<div class="sep" style="left:711.5px;top:692.4px;width:379px"></div>
<div class="t" style="top:703.26px;font-size:12.8px;line-height:16px;color:#1f2226;left:711.20px;-webkit-text-stroke:0.1px currentColor;">The Pulnereap Most Analysis in</div>
<div class="t" style="top:718.56px;font-size:12.8px;line-height:16px;color:#1f2226;left:711.20px;-webkit-text-stroke:0.1px currentColor;">the nama?</div>
<div class="t" style="top:710.76px;font-size:12.8px;line-height:16px;color:#1f2226;left:941.50px;-webkit-text-stroke:0.1px currentColor;">Dom</div>
<div class="t" style="top:710.76px;font-size:12.8px;line-height:16px;color:#1f2226;right:109.50px;text-align:right;-webkit-text-stroke:0.1px currentColor;">200</div>
<div class="sep" style="left:711.5px;top:743.2px;width:379px"></div>
<div class="t" style="top:754.06px;font-size:12.8px;line-height:16px;color:#1f2226;left:711.20px;-webkit-text-stroke:0.1px currentColor;">The best building because of</div>
<div class="t" style="top:769.36px;font-size:12.8px;line-height:16px;color:#1f2226;left:711.20px;-webkit-text-stroke:0.1px currentColor;">Website</div>
<div class="t" style="top:761.56px;font-size:12.8px;line-height:16px;color:#1f2226;left:941.50px;-webkit-text-stroke:0.1px currentColor;">BRM</div>
<div class="t" style="top:761.56px;font-size:12.8px;line-height:16px;color:#1f2226;right:109.50px;text-align:right;-webkit-text-stroke:0.1px currentColor;">150</div>
</body></html>
